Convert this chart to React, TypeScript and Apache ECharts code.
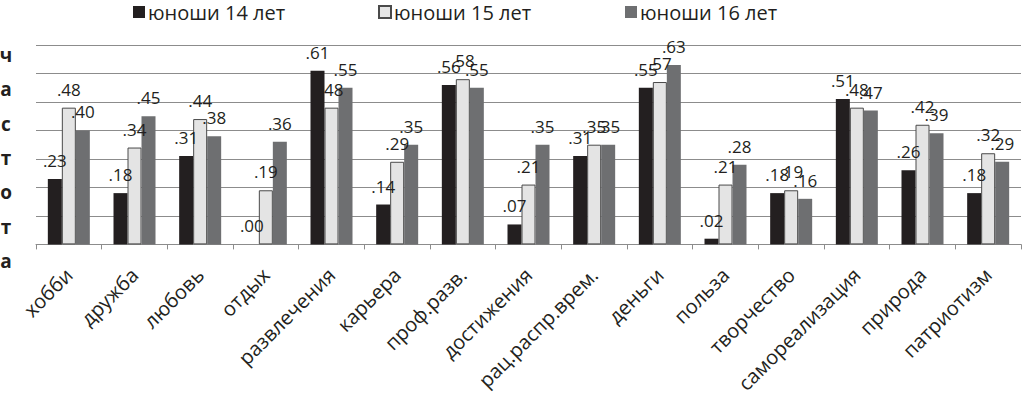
import React, { useEffect, useRef } from "react";
import * as echarts from "echarts";

const categories = [
  "хобби", "дружба", "любовь", "отдых", "развлечения", "карьера", "проф.разв.",
  "достижения", "рац.распр.врем.", "деньги", "польза", "творчество",
  "самореализация", "природа", "патриотизм",
];
const seriesNames = ["юноши 14 лет", "юноши 15 лет", "юноши 16 лет"];
const boys14 = [0.23, 0.18, 0.31, 0.0, 0.61, 0.14, 0.56, 0.07, 0.31, 0.55, 0.02, 0.18, 0.51, 0.26, 0.18];
const boys15 = [0.48, 0.34, 0.44, 0.19, 0.48, 0.29, 0.58, 0.21, 0.35, 0.57, 0.21, 0.19, 0.48, 0.42, 0.32];
const boys16 = [0.40, 0.45, 0.38, 0.36, 0.55, 0.35, 0.55, 0.35, 0.35, 0.63, 0.28, 0.16, 0.47, 0.39, 0.29];
const yAxisLetters = ["ч", "а", "с", "т", "о", "т", "а"];

const FONT = "'Open Sans', 'DejaVu Sans', sans-serif";
const TEXT = "#231f20";

const fmt = (v: number) => v.toFixed(2).replace(/^0/, "");

export default function App() {
  const ref = useRef<HTMLDivElement>(null);
  useEffect(() => {
    if (!ref.current) return;
    const chart = echarts.init(ref.current, undefined, { renderer: "svg" });
    const styles = [
      { color: "#231f20", borderColor: "#231f20", borderWidth: 0 },
      { color: "#e4e4e4", borderColor: "#4a4a4a", borderWidth: 1 },
      { color: "#6e6f71", borderColor: "#6e6f71", borderWidth: 0 },
    ];
    const datas = [boys14, boys15, boys16];
    const legendLefts = [128, 373, 620];
    chart.setOption({
      animation: false,
      textStyle: { fontFamily: FONT },
      legend: seriesNames.map((n, i) => ({
        data: [n],
        left: legendLefts[i],
        top: 2,
        padding: [0, 5, 5, 5],
        icon: "rect",
        itemWidth: 12,
        itemHeight: 12,
        itemGap: 4,
        textStyle: { fontSize: 20, fontFamily: FONT, color: TEXT, padding: [0, 0, 0, -2] },
      })),
      grid: { left: 36, right: 4, top: 45, bottom: 151, containLabel: false },
      xAxis: {
        type: "category",
        data: categories,
        axisLine: { show: true, lineStyle: { color: "#8c8c8c", width: 1 } },
        axisTick: { show: true, length: 5, lineStyle: { color: "#8c8c8c" } },
        axisLabel: {
          rotate: 45,
          interval: 0,
          margin: 27,
          fontSize: 20,
          fontFamily: FONT,
          color: TEXT,
        },
      },
      yAxis: {
        type: "value",
        min: 0,
        max: 0.7,
        interval: 0.1,
        axisLabel: { show: false },
        axisLine: { show: false },
        axisTick: { show: false },
        splitLine: { show: true, lineStyle: { color: "#8c8c8c", width: 1 } },
      },
      graphic: [
        {
          type: "text",
          x: 6,
          y: 158,
          style: {
            text: yAxisLetters.join("\n"),
            fontSize: 19,
            fontWeight: "bold",
            fontFamily: FONT,
            lineHeight: 34.4,
            fill: TEXT,
            textAlign: "center",
            textVerticalAlign: "middle",
          },
        },
      ],
      series: seriesNames.map((n, i) => ({
        name: n,
        type: "bar",
        data: datas[i],
        barWidth: 14,
        barGap: "0%",
        itemStyle: styles[i],
        label: {
          show: true,
          position: "top",
          distance: 10,
          fontSize: 17,
          fontFamily: FONT,
          color: TEXT,
          formatter: (p: any) => fmt(p.value),
        },
      })),
    });
    return () => chart.dispose();
  }, []);
  return (
    <div
      ref={ref}
      style={{ position: "fixed", left: 0, top: 0, width: 1025, height: 396, background: "#fff" }}
    />
  );
}
